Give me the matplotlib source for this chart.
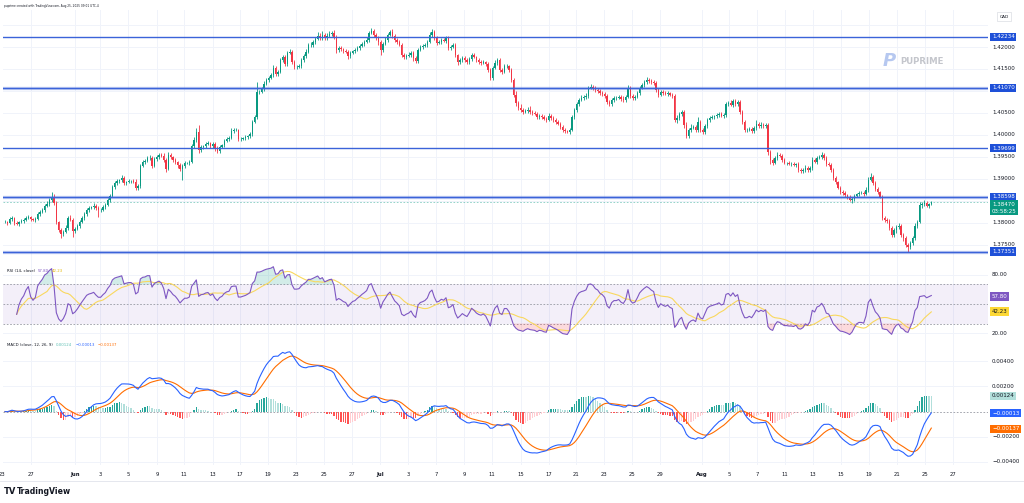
import numpy as np
import pandas as pd
import matplotlib
matplotlib.use("Agg")
import matplotlib.pyplot as plt
from matplotlib import transforms

# USDCAD 4h closes (oldest first)
closes = [
    1.3802, 1.3800, 1.3809, 1.3811, 1.3800, 1.3798, 1.3802, 1.3805, 1.3807, 1.3811, 1.3814, 1.3809, 1.3807, 1.3809, 1.3820, 1.3825, 1.3830, 1.3839, 1.3843, 1.3852,
    1.3859, 1.3845, 1.3802, 1.3784, 1.3775, 1.3780, 1.3789, 1.3811, 1.3807, 1.3782, 1.3786, 1.3793, 1.3802, 1.3811, 1.3820, 1.3830, 1.3834, 1.3836, 1.3839, 1.3834,
    1.3830, 1.3830, 1.3836, 1.3841, 1.3852, 1.3861, 1.3882, 1.3891, 1.3895, 1.3898, 1.3902, 1.3891, 1.3893, 1.3895, 1.3895, 1.3893, 1.3880, 1.3884, 1.3930, 1.3939,
    1.3941, 1.3948, 1.3948, 1.3930, 1.3945, 1.3950, 1.3955, 1.3952, 1.3943, 1.3923, 1.3955, 1.3950, 1.3943, 1.3939, 1.3932, 1.3923, 1.3930, 1.3936, 1.3936, 1.3939,
    1.3975, 1.3989, 1.4007, 1.3966, 1.3973, 1.3975, 1.3980, 1.3982, 1.3975, 1.3980, 1.3970, 1.3964, 1.3973, 1.3977, 1.3986, 1.3991, 1.3993, 1.4009, 1.4011, 1.4011,
    1.3991, 1.3991, 1.3993, 1.3995, 1.3998, 1.4002, 1.4030, 1.4041, 1.4098, 1.4098, 1.4105, 1.4116, 1.4125, 1.4130, 1.4136, 1.4152, 1.4139, 1.4143, 1.4170, 1.4177,
    1.4161, 1.4186, 1.4189, 1.4166, 1.4155, 1.4155, 1.4157, 1.4170, 1.4180, 1.4189, 1.4205, 1.4205, 1.4211, 1.4218, 1.4225, 1.4220, 1.4227, 1.4220, 1.4225, 1.4230,
    1.4232, 1.4223, 1.4193, 1.4198, 1.4195, 1.4191, 1.4189, 1.4180, 1.4186, 1.4191, 1.4193, 1.4198, 1.4202, 1.4207, 1.4211, 1.4216, 1.4232, 1.4236, 1.4227, 1.4220,
    1.4211, 1.4193, 1.4207, 1.4216, 1.4227, 1.4234, 1.4225, 1.4216, 1.4211, 1.4205, 1.4182, 1.4177, 1.4180, 1.4182, 1.4186, 1.4175, 1.4168, 1.4193, 1.4200, 1.4202,
    1.4205, 1.4211, 1.4227, 1.4234, 1.4220, 1.4209, 1.4211, 1.4216, 1.4214, 1.4220, 1.4198, 1.4200, 1.4205, 1.4182, 1.4166, 1.4170, 1.4175, 1.4170, 1.4166, 1.4173,
    1.4182, 1.4177, 1.4170, 1.4166, 1.4164, 1.4166, 1.4161, 1.4148, 1.4130, 1.4152, 1.4164, 1.4170, 1.4148, 1.4143, 1.4157, 1.4157, 1.4148, 1.4125, 1.4091, 1.4073,
    1.4061, 1.4057, 1.4052, 1.4055, 1.4057, 1.4052, 1.4050, 1.4048, 1.4041, 1.4043, 1.4041, 1.4036, 1.4034, 1.4043, 1.4039, 1.4034, 1.4030, 1.4025, 1.4018, 1.4011,
    1.4009, 1.4007, 1.4011, 1.4041, 1.4057, 1.4070, 1.4080, 1.4084, 1.4086, 1.4089, 1.4107, 1.4109, 1.4107, 1.4102, 1.4100, 1.4095, 1.4093, 1.4089, 1.4075, 1.4070,
    1.4080, 1.4084, 1.4084, 1.4086, 1.4082, 1.4080, 1.4086, 1.4107, 1.4089, 1.4084, 1.4086, 1.4095, 1.4107, 1.4114, 1.4120, 1.4125, 1.4123, 1.4120, 1.4118, 1.4102,
    1.4091, 1.4098, 1.4095, 1.4093, 1.4095, 1.4091, 1.4089, 1.4034, 1.4039, 1.4048, 1.4052, 1.4023, 1.3998, 1.4011, 1.4016, 1.4018, 1.4011, 1.4030, 1.4011, 1.4007,
    1.4020, 1.4034, 1.4039, 1.4041, 1.4043, 1.4045, 1.4048, 1.4043, 1.4045, 1.4070, 1.4073, 1.4068, 1.4077, 1.4070, 1.4075, 1.4052, 1.4030, 1.4011, 1.4011, 1.4014,
    1.4009, 1.4016, 1.4025, 1.4020, 1.4023, 1.4020, 1.4023, 1.3961, 1.3943, 1.3936, 1.3948, 1.3955, 1.3952, 1.3943, 1.3936, 1.3936, 1.3934, 1.3934, 1.3932, 1.3934,
    1.3920, 1.3918, 1.3920, 1.3925, 1.3920, 1.3925, 1.3943, 1.3939, 1.3948, 1.3950, 1.3955, 1.3948, 1.3934, 1.3932, 1.3920, 1.3902, 1.3893, 1.3880, 1.3870, 1.3868,
    1.3864, 1.3859, 1.3852, 1.3855, 1.3861, 1.3866, 1.3868, 1.3868, 1.3866, 1.3875, 1.3898, 1.3905, 1.3891, 1.3877, 1.3870, 1.3859, 1.3811, 1.3807, 1.3805, 1.3789,
    1.3773, 1.3784, 1.3791, 1.3793, 1.3773, 1.3766, 1.3750, 1.3745, 1.3755, 1.3766, 1.3793, 1.3802, 1.3841, 1.3843, 1.3845, 1.3839, 1.3843, 1.3847,
]

# wick lengths beyond the body, in pips
upper_pips = [
    4, 3, 5, 4, 3, 4, 3, 3, 4, 5, 4, 3, 3, 4, 5, 4, 5, 4, 6, 5,
    12, 6, 4, 3, 5, 4, 6, 5, 8, 4, 5, 4, 4, 5, 4, 5, 4, 3, 6, 4,
    4, 3, 4, 5, 4, 6, 5, 4, 5, 3, 8, 4, 3, 4, 3, 4, 6, 4, 5, 4,
    5, 4, 6, 4, 5, 4, 5, 4, 6, 5, 6, 4, 3, 4, 3, 5, 4, 5, 3, 4,
    5, 6, 8, 16, 4, 3, 4, 5, 3, 4, 3, 4, 5, 3, 4, 4, 5, 6, 4, 5,
    3, 4, 3, 4, 3, 4, 5, 4, 22, 5, 4, 6, 5, 4, 5, 6, 4, 5, 6, 5,
    4, 6, 7, 5, 4, 5, 4, 5, 4, 6, 5, 7, 6, 5, 8, 6, 10, 5, 6, 7,
    5, 6, 4, 5, 4, 3, 4, 5, 4, 3, 4, 5, 4, 5, 4, 6, 5, 8, 6, 5,
    5, 4, 5, 6, 4, 5, 6, 5, 4, 5, 4, 5, 4, 6, 5, 4, 5, 4, 5, 4,
    4, 5, 6, 8, 5, 4, 5, 4, 5, 4, 5, 4, 5, 4, 3, 4, 5, 4, 5, 4,
    4, 5, 3, 4, 5, 4, 3, 5, 4, 5, 6, 4, 5, 4, 5, 4, 3, 4, 5, 8,
    5, 10, 4, 5, 6, 8, 4, 5, 4, 5, 4, 5, 4, 6, 4, 5, 4, 3, 4, 5,
    4, 3, 5, 5, 4, 5, 4, 6, 5, 7, 4, 6, 5, 4, 5, 4, 5, 4, 5, 4,
    4, 5, 4, 5, 4, 6, 5, 6, 4, 5, 4, 6, 5, 4, 5, 6, 5, 4, 5, 4,
    4, 5, 4, 5, 4, 3, 4, 5, 6, 5, 4, 5, 6, 5, 8, 5, 4, 12, 5, 4,
    5, 4, 5, 4, 3, 4, 5, 4, 5, 6, 5, 6, 5, 4, 5, 4, 5, 4, 5, 4,
    5, 4, 8, 5, 6, 4, 5, 4, 5, 4, 5, 6, 4, 5, 4, 3, 4, 5, 4, 3,
    4, 5, 4, 6, 5, 4, 6, 5, 4, 5, 6, 5, 4, 5, 4, 5, 4, 3, 4, 5,
    4, 3, 4, 5, 4, 3, 4, 5, 4, 6, 7, 8, 4, 5, 4, 3, 4, 5, 4, 5,
    4, 5, 4, 6, 5, 4, 5, 4, 5, 4, 6, 4, 6, 5, 8, 4, 3, 3,
]
lower_pips = [
    3, 4, 3, 5, 4, 3, 4, 3, 4, 3, 3, 4, 3, 4, 3, 4, 3, 4, 3, 4,
    4, 5, 4, 5, 9, 4, 3, 4, 3, 14, 4, 3, 4, 3, 4, 3, 4, 3, 4, 4,
    16, 4, 3, 4, 3, 4, 3, 4, 5, 3, 4, 5, 4, 3, 4, 3, 4, 5, 4, 3,
    4, 3, 5, 4, 3, 4, 5, 3, 4, 8, 3, 4, 5, 4, 6, 5, 25, 4, 3, 4,
    3, 4, 5, 6, 5, 4, 5, 3, 4, 5, 6, 5, 4, 3, 4, 3, 4, 3, 4, 3,
    5, 4, 3, 4, 3, 4, 4, 3, 5, 4, 3, 4, 3, 4, 3, 4, 5, 4, 3, 4,
    5, 4, 3, 5, 6, 4, 3, 4, 3, 4, 3, 4, 5, 4, 3, 5, 4, 5, 4, 3,
    4, 5, 6, 4, 5, 4, 3, 8, 4, 3, 4, 3, 4, 3, 4, 3, 4, 3, 5, 4,
    6, 11, 4, 3, 4, 3, 4, 5, 4, 3, 5, 4, 5, 3, 4, 6, 5, 4, 3, 4,
    3, 4, 3, 4, 5, 4, 3, 4, 3, 4, 5, 4, 3, 4, 6, 5, 4, 3, 4, 5,
    4, 3, 4, 5, 4, 3, 4, 5, 6, 4, 3, 4, 5, 4, 3, 4, 5, 4, 5, 6,
    4, 5, 4, 3, 4, 5, 4, 3, 4, 5, 4, 3, 4, 3, 4, 5, 4, 3, 4, 5,
    4, 3, 4, 3, 4, 5, 4, 3, 4, 5, 4, 3, 4, 5, 4, 3, 4, 5, 4, 3,
    4, 5, 4, 3, 4, 5, 4, 3, 4, 5, 4, 3, 4, 3, 4, 3, 4, 3, 4, 5,
    4, 3, 4, 3, 4, 3, 4, 5, 6, 4, 5, 6, 4, 5, 4, 3, 5, 4, 5, 4,
    4, 3, 4, 3, 4, 5, 4, 3, 4, 3, 4, 3, 4, 3, 4, 5, 4, 5, 4, 3,
    4, 5, 4, 3, 4, 3, 4, 6, 8, 4, 3, 4, 3, 4, 3, 4, 3, 4, 3, 4,
    5, 4, 5, 3, 4, 5, 4, 3, 4, 3, 4, 5, 4, 3, 4, 5, 4, 3, 4, 5,
    4, 5, 3, 6, 4, 3, 4, 3, 4, 3, 4, 3, 4, 5, 4, 3, 4, 5, 4, 5,
    4, 5, 6, 4, 5, 6, 4, 11, 5, 4, 5, 4, 3, 6, 4, 3, 4, 3,
]

levels = [1.42234, 1.41070, 1.39699, 1.38598, 1.37351]
halo_levels = [1.41070, 1.38598, 1.37351]
last_price = 1.38470
countdown = "03:58:25"
grid_prices = [1.375, 1.380, 1.385, 1.390, 1.395, 1.400, 1.405, 1.410, 1.415, 1.420, 1.425]
price_ticks = [1.375, 1.380, 1.390, 1.395, 1.400, 1.405, 1.415, 1.420]

rsi_ticks = [80, 20]
macd_ticks = [0.004, 0.002, -0.002, -0.004]
rsi_last, rsi_ma_last = 57.80, 42.23
hist_last, macd_last, signal_last = 0.00124, -0.00013, -0.00137

# date labels, placed at bar numbers
date_pos = [11.1, 30.0, 40.7, 52.7, 65.1, 76.7, 89.1, 100.7, 112.7, 124.7, 136.7,
            148.7, 160.7, 172.7, 184.7, 196.7, 208.7, 221.2, 233.2, 244.7, 256.7,
            268.7, 280.7, 298.7, 310.3, 322.3, 334.3, 346.3, 358.3, 370.3, 382.3,
            394.3, 406.3]
date_labels = ["27", "Jun", "3", "5", "9", "11", "13", "17", "19", "23", "25",
               "27", "Jul", "3", "7", "9", "11", "15", "17", "21", "23",
               "25", "29", "Aug", "5", "7", "11", "13", "15", "19", "21",
               "25", "27"]

assert len(closes) == len(upper_pips) == len(lower_pips), (len(closes), len(upper_pips), len(lower_pips))

UP, DOWN = "#089981", "#f23645"
TXT = "#131722"
GRID = "#f0f3fa"
LINE_BLUE = "#3b63d9"

c = np.array(closes)
o = np.r_[c[0], c[:-1]]
hi = np.maximum(o, c) + np.array(upper_pips) * 1e-4
lo = np.minimum(o, c) - np.array(lower_pips) * 1e-4
x = np.arange(len(c))

s = pd.Series(c)
d = s.diff()
gain = d.clip(lower=0)
loss = -d.clip(upper=0)
ag = gain.ewm(alpha=1 / 14, adjust=True, min_periods=5).mean()
al = loss.ewm(alpha=1 / 14, adjust=True, min_periods=5).mean()
rsi = 100 - 100 / (1 + ag / al)
rsi_ma = rsi.rolling(14, min_periods=1).mean()

ema12 = s.ewm(span=12, adjust=False).mean()
ema26 = s.ewm(span=26, adjust=False).mean()
macd = ema12 - ema26
signal = macd.ewm(span=9, adjust=False).mean()
hist = macd - signal

W, H = 1024, 503
fig = plt.figure(figsize=(W / 100, H / 100), dpi=100)


def box(top, bottom):
    return [3 / W, 1 - bottom / H, 985 / W, (bottom - top) / H]


ax = fig.add_axes(box(10, 265))
ax_rsi = fig.add_axes(box(265, 339), sharex=ax)
ax_macd = fig.add_axes(box(339, 465), sharex=ax)

for a in (ax, ax_rsi, ax_macd):
    for sp in a.spines.values():
        sp.set_visible(False)
    a.tick_params(length=0, labelleft=False, labelbottom=False)
    a.set_yticks([])
    for p in date_pos:
        a.axvline(p, color=GRID, lw=0.7, zorder=0)

ax.set_xlim(-0.86, 421.3)
ax.set_ylim(1.37045, 1.42841)
ax_rsi.set_ylim(14.2, 89.9)
ax_macd.set_ylim(-0.00426, 0.00578)

# main price pane
for g in grid_prices:
    ax.axhline(g, color=GRID, lw=0.7, zorder=0)

cols = np.where(c >= o, UP, DOWN)
ax.vlines(x, lo, hi, colors=cols, lw=0.6, zorder=2)
ax.bar(x, np.maximum(np.abs(c - o), 0.00004), bottom=np.minimum(o, c),
       width=0.68, color=cols, linewidth=0, zorder=3)

for lv in halo_levels:
    ax.axhline(lv, color=LINE_BLUE, lw=2.4, alpha=0.3, zorder=4)
for lv in levels:
    ax.axhline(lv, color=LINE_BLUE, lw=1.0, zorder=4)
ax.axhline(last_price, color=UP, lw=0.6, ls=(0, (2, 2)), alpha=0.5, zorder=1)

# RSI pane
for g in rsi_ticks:
    ax_rsi.axhline(g, color=GRID, lw=0.7, zorder=0)
ax_rsi.axhspan(30, 70, color="#7e57c2", alpha=0.09, lw=0, zorder=0)
for g in (70, 50, 30):
    ax_rsi.axhline(g, color="#9598a1", lw=0.6, ls=(0, (2, 2)), zorder=1)
ax_rsi.fill_between(x, 70, rsi, where=rsi > 70, color=UP, alpha=0.18, lw=0, interpolate=True)
ax_rsi.fill_between(x, 30, rsi, where=rsi < 30, color=DOWN, alpha=0.18, lw=0, interpolate=True)
ax_rsi.plot(x, rsi_ma, color="#f9d85e", lw=0.8, zorder=2)
ax_rsi.plot(x, rsi, color="#7e57c2", lw=0.8, zorder=3)

# MACD pane
for g in macd_ticks:
    ax_macd.axhline(g, color=GRID, lw=0.7, zorder=0)
ax_macd.axhline(0, color="#9598a1", lw=0.6, ls=(0, (2, 2)), zorder=1)
prev = hist.shift(1).fillna(0).values
hv = hist.values
hcol = np.where(hv >= 0, np.where(hv >= prev, "#26a69a", "#b2dfdb"),
                np.where(hv < prev, "#ff5252", "#ffcdd2"))
ax_macd.bar(x, hv, width=0.62, color=hcol, linewidth=0, zorder=2)
ax_macd.plot(x, signal, color="#ff6d00", lw=0.8, zorder=3)
ax_macd.plot(x, macd, color="#2962ff", lw=0.8, zorder=4)

# time axis
ax_macd.set_xticks(date_pos)
ax_macd.set_xticklabels(date_labels)
ax_macd.tick_params(axis="x", labelbottom=True, labelsize=3.8, labelcolor=TXT, pad=5)
for t in ax_macd.get_xticklabels():
    if t.get_text() in ("Jun", "Jul", "Aug"):
        t.set_fontweight("bold")
fig.text(2 / W, 1 - 474 / H, "23", fontsize=3.8, color=TXT, ha="center", va="center")
fig.add_artist(plt.Line2D([0, 1], [1 - 481 / H] * 2, color="#e0e3eb", lw=0.6))


# right scale labels
def rlabel(a, y, txt, fc=None, tc=TXT, fs=4):
    tr = transforms.blended_transform_factory(fig.transFigure, a.transData)
    kw = {}
    if fc is not None:
        kw["bbox"] = dict(boxstyle="square,pad=0.3", fc=fc, ec="none")
    a.text(992 / W, y, txt, transform=tr, fontsize=fs, color=tc, ha="left",
           va="center", clip_on=False, zorder=10, **kw)


for p in price_ticks:
    rlabel(ax, p, f"{p:.5f}")
for lv in levels:
    rlabel(ax, lv, f"{lv:.5f}", fc="#1e50d8", tc="white")
tr = transforms.blended_transform_factory(fig.transFigure, ax.transData)
ax.text(992 / W, last_price + 0.00012, f"{last_price:.5f}\n{countdown}", transform=tr,
        fontsize=4, color="white", ha="left", va="top", linespacing=1.5,
        clip_on=False, zorder=10,
        bbox=dict(boxstyle="square,pad=0.3", fc=UP, ec="none"))

for g in rsi_ticks:
    rlabel(ax_rsi, g, f"{g:.2f}")
rlabel(ax_rsi, rsi_last, f"{rsi_last:.2f}", fc="#7e57c2", tc="white")
rlabel(ax_rsi, rsi_ma_last, f"{rsi_ma_last:.2f}", fc="#fdd835", tc=TXT)


def fmt(v):
    return f"{v:.5f}".replace("-", "\u2212")


for g in macd_ticks:
    rlabel(ax_macd, g, fmt(g))
rlabel(ax_macd, hist_last, fmt(hist_last), fc="#b2dfdb", tc=TXT)
rlabel(ax_macd, macd_last, fmt(macd_last), fc="#2962ff", tc="white")
rlabel(ax_macd, signal_last, fmt(signal_last), fc="#ff6d00", tc="white")

fig.text(1004 / W, 1 - 16.5 / H, "CAD", fontsize=3.2, color=TXT, ha="center", va="center",
         bbox=dict(boxstyle="square,pad=0.5", fc="white", ec="#d1d4dc", lw=0.4))

# header and pane titles
fig.text(4 / W, 1 - 6 / H, "puprime created with TradingView.com, Aug 25, 2025 09:01 UTC-4",
         fontsize=2.1, color=TXT, ha="left", va="center")

renderer = fig.canvas.get_renderer()


def title_row(y, parts):
    xx = 7
    for txt, col in parts:
        t = fig.text(xx / W, 1 - y / H, txt, fontsize=2.8, color=col, ha="left", va="center")
        xx = t.get_window_extent(renderer).x1 + 3


title_row(270.7, [("RSI (14, close)", TXT), (f"{rsi_last:.2f}", "#7e57c2"),
                  (f"{rsi_ma_last:.2f}", "#e3b707")])
title_row(345, [("MACD (close, 12, 26, 9)", TXT), (fmt(hist_last), "#5fc0b4"),
                (fmt(macd_last), "#2962ff"), (fmt(signal_last), "#ff6d00")])

# watermark and footer
fig.text(889 / W, 1 - 61 / H, "P", fontsize=13, color="#b6c8f0", fontweight="bold",
         fontstyle="italic", ha="center", va="center")
fig.text(900 / W, 1 - 61 / H, "PUPRIME", fontsize=6.2, color="#c4c6cc",
         fontweight="bold", ha="left", va="center")
fig.text(4 / W, 1 - 492 / H, "TV", fontsize=6, color=TXT, fontweight="heavy",
         ha="left", va="center")
fig.text(17 / W, 1 - 492 / H, "TradingView", fontsize=5.6, color=TXT,
         fontweight="bold", ha="left", va="center")

fig.savefig("out.png", dpi=100, facecolor="white")
